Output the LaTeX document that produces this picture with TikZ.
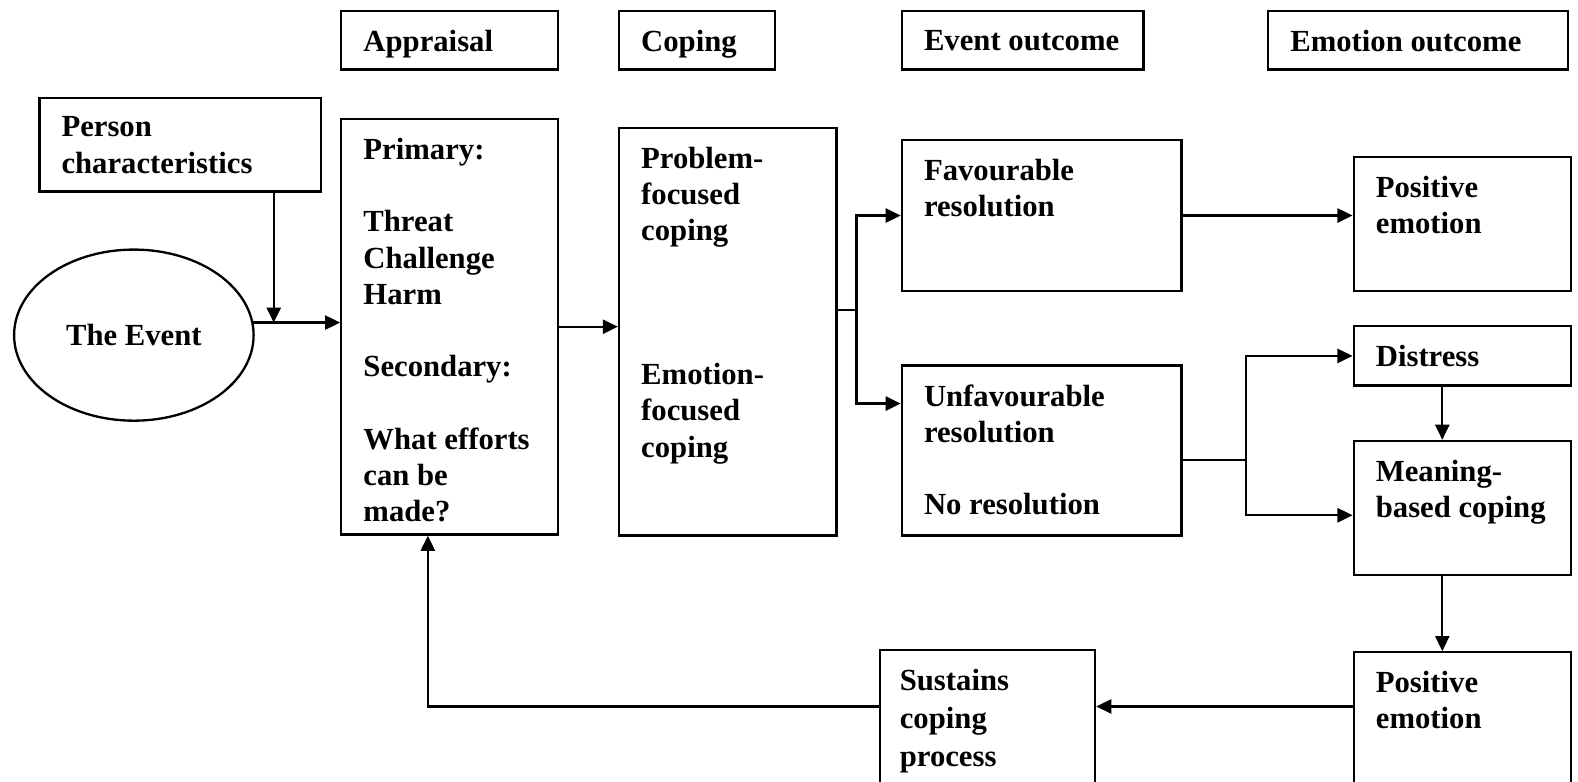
\documentclass[tikz,border=0pt]{standalone}
\usepackage{fontspec}
\setmainfont{Liberation Serif}
\usetikzlibrary{arrows.meta,positioning,shapes.geometric,calc}

\begin{document}
\begin{tikzpicture}[x=1pt, y=-1pt, line width=2.3pt,
    every node/.style={font=\fontsize{30.5}{36}\selectfont\bfseries},
    box/.style={draw, rectangle, anchor=north west, inner sep=0pt},
    lbl/.style={anchor=north west, align=left, inner sep=0pt},
    arr/.style={-{Triangle[length=15pt,width=14pt]}}]
  \useasboundingbox (0,0) rectangle (1568,777);

  % Column headers
  \node[box, minimum width=215pt, minimum height=58pt] (hAppr) at (338,10) {};
  \node[lbl] (hApprTxt) at ($(hAppr.north west)+(22,19)$) {Appraisal};
  \node[box, minimum width=155pt, minimum height=58pt] (hCope) at (614,10) {};
  \node[lbl] (hCopeTxt) at ($(hCope.north west)+(22,19)$) {Coping};
  \node[box, minimum width=240pt, minimum height=58pt] (hEvt) at (895,10) {};
  \node[lbl] (hEvtTxt) at ($(hEvt.north west)+(22,19)$) {Event outcome};
  \node[box, minimum width=298pt, minimum height=58pt] (hEmo) at (1259,10) {};
  \node[lbl] (hEmoTxt) at ($(hEmo.north west)+(22,19)$) {Emotion outcome};

  % Input side
  \node[draw, ellipse, minimum width=238pt, minimum height=170pt, inner sep=0pt]
    (event) at (133,333) {The Event};
  \node[box, minimum width=280pt, minimum height=93pt] (person) at (38,96) {};
  \node[lbl] (personTxt) at ($(person.north west)+(22,19)$) {Person\\characteristics};

  % Appraisal and coping
  \node[box, minimum width=215pt, minimum height=413pt] (appr) at (338,117) {};
  \node[lbl] (apprTxt) at ($(appr.north west)+(22,19)$)
    {Primary:\\[36pt]Threat\\Challenge\\Harm\\[36pt]Secondary:\\[36pt]What efforts\\can be\\made?};
  \node[box, minimum width=216pt, minimum height=405pt] (cope) at (614,126) {};
  \node[lbl] (copeTxt) at ($(cope.north west)+(22,19)$)
    {Problem-\\focused\\coping\\[107pt]Emotion-\\focused\\coping};

  % Event outcomes
  \node[box, minimum width=278pt, minimum height=150pt] (fav) at (895,138) {};
  \node[lbl] (favTxt) at ($(fav.north west)+(22,19)$) {Favourable\\resolution};
  \node[box, minimum width=278pt, minimum height=169pt] (unfav) at (895,362) {};
  \node[lbl] (unfavTxt) at ($(unfav.north west)+(22,19)$)
    {Unfavourable\\resolution\\[36pt]No resolution};

  % Emotion outcomes
  \node[box, minimum width=216pt, minimum height=133pt] (pos1) at (1344,155) {};
  \node[lbl] (pos1Txt) at ($(pos1.north west)+(22,19)$) {Positive\\emotion};
  \node[box, minimum width=216pt, minimum height=59pt] (dist) at (1344,323) {};
  \node[lbl] (distTxt) at ($(dist.north west)+(22,19)$) {Distress};
  \node[box, minimum width=216pt, minimum height=133pt] (mean) at (1344,437) {};
  \node[lbl] (meanTxt) at ($(mean.north west)+(22,19)$) {Meaning-\\based coping};
  \node[box, minimum width=216pt, minimum height=140pt] (pos2) at (1344,647) {};
  \node[lbl] (pos2Txt) at ($(pos2.north west)+(22,19)$) {Positive\\emotion};
  \node[box, minimum width=214pt, minimum height=140pt] (sust) at (873,645) {};
  \node[lbl] (sustTxt) at ($(sust.north west)+(20,19)$)
    {Sustains\\[1.5pt]coping\\[1.5pt]process};

  % Connectors
  \coordinate (jin) at (272,320.6);
  \draw[arr] (event.6) -- (event.6 -| appr.west);
  \draw[arr] (person.south -| jin) -- (jin);
  \draw[arr] (appr.east) -- (appr.east -| cope.west);

  \coordinate (jcope) at (851,308);
  \draw (cope.east |- jcope) -- (jcope);
  \draw[arr] (jcope) |- (fav.west);
  \draw[arr] (jcope) |- ([yshift=-39pt]unfav.north west);
  \draw[arr] (fav.east) -- (fav.east -| pos1.west);

  \coordinate (junf) at (1238,457);
  \draw (unfav.east |- junf) -- (junf);
  \draw[arr] (junf) |- (dist.west);
  \draw[arr] (junf) |- ([yshift=-75pt]mean.north west);
  \draw[arr] ([xshift=-20pt]dist.south) -- ([xshift=-20pt]mean.north);
  \draw[arr] ([xshift=-20pt]mean.south) -- ([xshift=-20pt]pos2.north);

  % Feedback loop
  \draw[arr] ([yshift=-55pt]pos2.north west) -- ([yshift=-57pt]sust.north east);
  \draw[arr] ([yshift=-57pt]sust.north west) -| ([xshift=-21.5pt]appr.south);
\end{tikzpicture}
\end{document}
